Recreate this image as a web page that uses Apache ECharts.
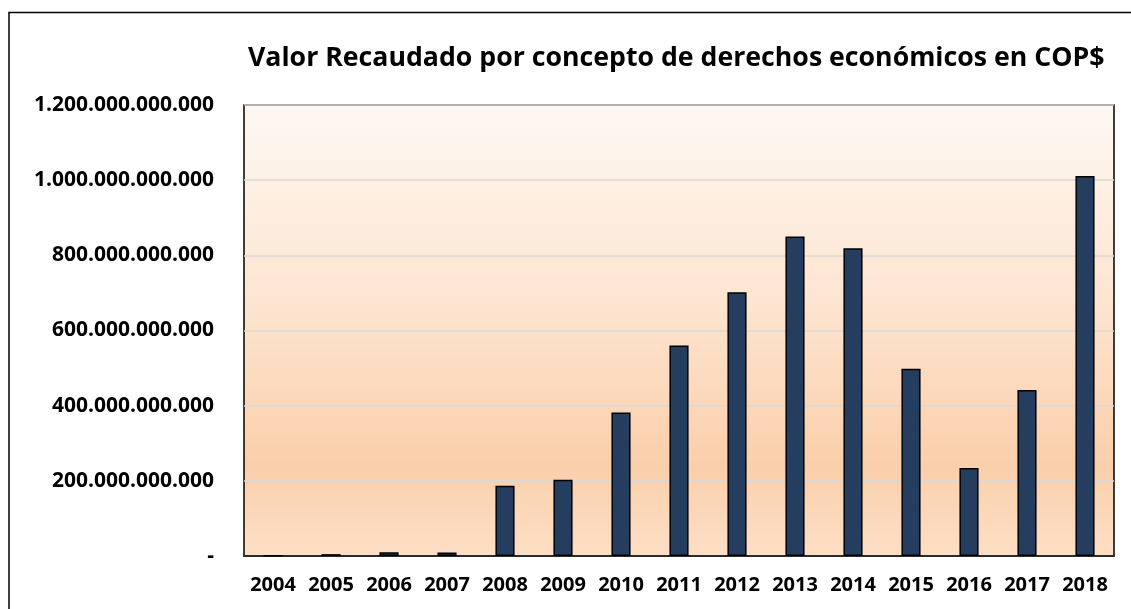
<!DOCTYPE html>
<html>
<head>
<meta charset="utf-8">
<script src="https://cdn.jsdelivr.net/npm/echarts@6/dist/echarts.min.js"></script>
<style>
  html, body { margin: 0; padding: 0; background: #fff; }
  #chart { width: 1131px; height: 609px; }
</style>
</head>
<body>
<div id="chart"></div>
<script>
// datos
const years = ['2004', '2005', '2006', '2007', '2008', '2009', '2010', '2011', '2012', '2013', '2014', '2015', '2016', '2017', '2018'];
const recaudo = [1e9, 5e9, 10e9, 9e9, 187e9, 203e9, 382e9, 560e9, 702e9, 850e9, 819e9, 498e9, 234e9, 442e9, 1011e9];
const yMax = 1.2e12;
const yStep = 2e11;

const chart = echarts.init(document.getElementById('chart'));

// formato 1.200.000.000.000, el cero como guion
const fmt = (v) => v === 0 ? '-' : String(Math.round(v)).replace(/\B(?=(\d{3})+(?!\d))/g, '.');

const font = '"Open Sans", sans-serif';

const option = {
  backgroundColor: '#fff',
  animation: false,
  title: {
    text: 'Valor Recaudado por concepto de derechos económicos en COP$',
    left: 243,
    top: 40,
    textStyle: {
      fontFamily: font,
      fontWeight: 'bold',
      fontSize: 26.7,
      color: '#000'
    }
  },
  graphic: [
    {
      type: 'rect',
      shape: { x: 9, y: 12.5, width: 1200, height: 700 },
      style: { fill: 'none', stroke: '#000', lineWidth: 1.5 },
      silent: true
    }
  ],
  grid: {
    left: 244,
    right: 17,
    top: 105,
    bottom: 53,
    show: true,
    borderColor: '#000',
    borderWidth: 1.5,
    backgroundColor: new echarts.graphic.LinearGradient(0, 0, 0, 1, [
      { offset: 0, color: '#fef8f2' },
      { offset: 0.45, color: '#fde4cf' },
      { offset: 0.8, color: '#facfab' },
      { offset: 1, color: '#fddfc6' }
    ])
  },
  xAxis: {
    type: 'category',
    data: years,
    axisLine: { show: true, lineStyle: { color: '#000', width: 1.5 } },
    axisTick: { show: false },
    axisLabel: {
      interval: 0,
      hideOverlap: false,
      margin: 19,
      color: '#000',
      fontFamily: font,
      fontWeight: 'bold',
      fontSize: 20
    }
  },
  yAxis: {
    type: 'value',
    min: 0,
    max: yMax,
    interval: yStep,
    axisLine: { show: false },
    axisTick: { show: false },
    splitLine: { lineStyle: { color: '#d9d9d9', width: 1.5 } },
    axisLabel: {
      margin: 30,
      color: '#000',
      fontFamily: font,
      fontWeight: 'bold',
      fontSize: 21,
      formatter: fmt
    }
  },
  series: [
    {
      type: 'bar',
      data: recaudo,
      barWidth: '33%',
      itemStyle: {
        color: '#253e5f',
        borderColor: '#000',
        borderWidth: 1.5
      }
    }
  ]
};

chart.setOption(option);
</script>
</body>
</html>
